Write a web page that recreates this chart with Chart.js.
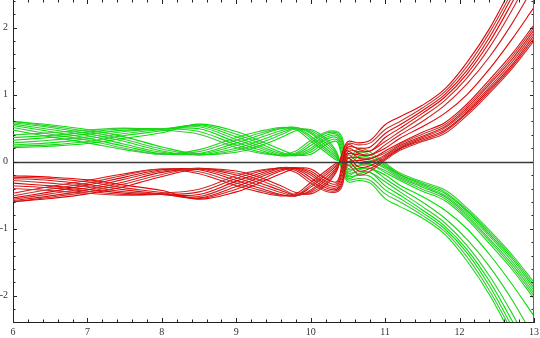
<!DOCTYPE html>
<html>
<head>
<meta charset="utf-8">
<script src="https://cdn.jsdelivr.net/npm/chart.js@4"></script>
<style>
  html, body { margin: 0; padding: 0; background: #fff; }
  canvas { display: block; }
</style>
</head>
<body>
<canvas id="myChart" width="540" height="338"></canvas>
<script>
// sample positions along x
const xs = [6, 6.5, 7, 7.5, 8, 8.5, 9, 9.3, 9.6, 9.8, 10, 10.2, 10.35, 10.42, 10.5, 10.65, 10.8, 11, 11.2, 11.5, 11.8, 12.1, 12.4, 12.7, 13];

// red family, first bundle (top at x=6)
const ra0 = [-0.21, -0.23, -0.27, -0.35, -0.43, -0.56, -0.45, -0.32, -0.18, -0.10, -0.11, -0.25, -0.30, -0.05, 0.25, 0.18, 0.16, 0.36, 0.50, 0.72, 0.96, 1.31, 1.78, 2.36, 2.98];
const ra1 = [-0.23, -0.25, -0.30, -0.39, -0.46, -0.55, -0.41, -0.28, -0.14, -0.09, -0.14, -0.29, -0.33, -0.12, 0.20, 0.12, 0.10, 0.25, 0.40, 0.60, 0.84, 1.16, 1.56, 2.05, 2.62];
const ra2 = [-0.25, -0.28, -0.34, -0.42, -0.48, -0.54, -0.37, -0.24, -0.12, -0.09, -0.17, -0.33, -0.36, -0.18, 0.15, 0.05, 0.04, 0.16, 0.28, 0.44, 0.58, 0.86, 1.22, 1.60, 2.04];
const ra3 = [-0.28, -0.32, -0.37, -0.45, -0.49, -0.52, -0.33, -0.21, -0.10, -0.10, -0.20, -0.36, -0.39, -0.24, 0.10, -0.02, -0.02, 0.08, 0.22, 0.36, 0.50, 0.77, 1.11, 1.48, 1.92];
const ra4 = [-0.32, -0.36, -0.41, -0.47, -0.49, -0.49, -0.29, -0.18, -0.09, -0.11, -0.24, -0.39, -0.41, -0.29, 0.05, -0.08, -0.06, 0.06, 0.20, 0.34, 0.47, 0.74, 1.08, 1.44, 1.88];
const ra5 = [-0.36, -0.39, -0.44, -0.49, -0.49, -0.45, -0.25, -0.15, -0.09, -0.13, -0.28, -0.42, -0.43, -0.33, 0.00, -0.14, -0.10, 0.04, 0.19, 0.32, 0.45, 0.72, 1.05, 1.41, 1.84];
const ra6 = [-0.40, -0.43, -0.47, -0.50, -0.47, -0.41, -0.21, -0.13, -0.10, -0.16, -0.32, -0.44, -0.45, -0.37, -0.05, -0.20, -0.14, 0.02, 0.17, 0.30, 0.42, 0.69, 1.02, 1.38, 1.80];
// red family, second bundle (bottom at x=6)
const rb0 = [-0.60, -0.55, -0.48, -0.37, -0.22, -0.11, -0.14, -0.23, -0.36, -0.46, -0.48, -0.35, -0.14, 0.12, 0.30, 0.28, 0.32, 0.55, 0.67, 0.84, 1.08, 1.48, 1.98, 2.60, 3.25];
const rb1 = [-0.60, -0.53, -0.45, -0.33, -0.19, -0.10, -0.17, -0.27, -0.40, -0.49, -0.46, -0.32, -0.12, 0.10, 0.27, 0.25, 0.28, 0.48, 0.60, 0.80, 1.04, 1.42, 1.92, 2.52, 3.15];
const rb2 = [-0.58, -0.51, -0.42, -0.30, -0.16, -0.10, -0.20, -0.31, -0.43, -0.50, -0.44, -0.28, -0.10, 0.08, 0.22, 0.20, 0.22, 0.42, 0.55, 0.76, 1.00, 1.36, 1.85, 2.45, 3.08];
const rb3 = [-0.56, -0.48, -0.39, -0.26, -0.14, -0.11, -0.24, -0.35, -0.46, -0.51, -0.42, -0.24, -0.08, 0.06, 0.17, 0.15, 0.16, 0.30, 0.45, 0.67, 0.91, 1.25, 1.70, 2.25, 2.88];
const rb4 = [-0.54, -0.45, -0.35, -0.23, -0.12, -0.12, -0.28, -0.39, -0.49, -0.51, -0.38, -0.20, -0.06, 0.03, 0.12, 0.10, 0.10, 0.20, 0.35, 0.52, 0.72, 1.00, 1.38, 1.82, 2.30];
const rb5 = [-0.51, -0.41, -0.32, -0.20, -0.11, -0.15, -0.32, -0.42, -0.50, -0.50, -0.35, -0.17, -0.04, 0.01, 0.06, 0.06, 0.05, 0.13, 0.26, 0.41, 0.55, 0.83, 1.18, 1.56, 2.00];
const rb6 = [-0.47, -0.37, -0.28, -0.18, -0.11, -0.18, -0.36, -0.45, -0.51, -0.48, -0.31, -0.14, -0.02, -0.01, 0.00, 0.02, 0.00, 0.10, 0.24, 0.38, 0.52, 0.80, 1.15, 1.52, 1.96];

// green family, first bundle (bottom at x=6)
const ga0 = [0.21, 0.23, 0.27, 0.35, 0.43, 0.56, 0.45, 0.32, 0.18, 0.10, 0.11, 0.25, 0.30, 0.05, -0.25, -0.18, -0.16, -0.36, -0.50, -0.72, -0.96, -1.31, -1.78, -2.36, -2.98];
const ga1 = [0.23, 0.25, 0.30, 0.39, 0.46, 0.55, 0.41, 0.28, 0.14, 0.09, 0.14, 0.29, 0.33, 0.12, -0.20, -0.12, -0.10, -0.25, -0.40, -0.60, -0.84, -1.16, -1.56, -2.05, -2.62];
const ga2 = [0.25, 0.28, 0.34, 0.42, 0.48, 0.54, 0.37, 0.24, 0.12, 0.09, 0.17, 0.33, 0.36, 0.18, -0.15, -0.05, -0.04, -0.16, -0.28, -0.44, -0.58, -0.86, -1.22, -1.60, -2.04];
const ga3 = [0.28, 0.32, 0.37, 0.45, 0.49, 0.52, 0.33, 0.21, 0.10, 0.10, 0.20, 0.36, 0.39, 0.24, -0.10, 0.02, 0.02, -0.08, -0.22, -0.36, -0.50, -0.77, -1.11, -1.48, -1.92];
const ga4 = [0.32, 0.36, 0.41, 0.47, 0.49, 0.49, 0.29, 0.18, 0.09, 0.11, 0.24, 0.39, 0.41, 0.29, -0.05, 0.08, 0.06, -0.06, -0.20, -0.34, -0.47, -0.74, -1.08, -1.44, -1.88];
const ga5 = [0.36, 0.39, 0.44, 0.49, 0.49, 0.45, 0.25, 0.15, 0.09, 0.13, 0.28, 0.42, 0.43, 0.33, 0.00, 0.14, 0.10, -0.04, -0.19, -0.32, -0.45, -0.72, -1.05, -1.41, -1.84];
const ga6 = [0.40, 0.43, 0.47, 0.50, 0.47, 0.41, 0.21, 0.13, 0.10, 0.16, 0.32, 0.44, 0.45, 0.37, 0.05, 0.20, 0.14, -0.02, -0.17, -0.30, -0.42, -0.69, -1.02, -1.38, -1.80];
// green family, second bundle (top at x=6)
const gb0 = [0.60, 0.55, 0.48, 0.37, 0.22, 0.11, 0.14, 0.23, 0.36, 0.46, 0.48, 0.35, 0.14, -0.12, -0.30, -0.28, -0.32, -0.55, -0.67, -0.84, -1.08, -1.48, -1.98, -2.60, -3.25];
const gb1 = [0.60, 0.53, 0.45, 0.33, 0.19, 0.10, 0.17, 0.27, 0.40, 0.49, 0.46, 0.32, 0.12, -0.10, -0.27, -0.25, -0.28, -0.48, -0.60, -0.80, -1.04, -1.42, -1.92, -2.52, -3.15];
const gb2 = [0.58, 0.51, 0.42, 0.30, 0.16, 0.10, 0.20, 0.31, 0.43, 0.50, 0.44, 0.28, 0.10, -0.08, -0.22, -0.20, -0.22, -0.42, -0.55, -0.76, -1.00, -1.36, -1.85, -2.45, -3.08];
const gb3 = [0.56, 0.48, 0.39, 0.26, 0.14, 0.11, 0.24, 0.35, 0.46, 0.51, 0.42, 0.24, 0.08, -0.06, -0.17, -0.15, -0.16, -0.30, -0.45, -0.67, -0.91, -1.25, -1.70, -2.25, -2.88];
const gb4 = [0.54, 0.45, 0.35, 0.23, 0.12, 0.12, 0.28, 0.39, 0.49, 0.51, 0.38, 0.20, 0.06, -0.03, -0.12, -0.10, -0.10, -0.20, -0.35, -0.52, -0.72, -1.00, -1.38, -1.82, -2.30];
const gb5 = [0.51, 0.41, 0.32, 0.20, 0.11, 0.15, 0.32, 0.42, 0.50, 0.50, 0.35, 0.17, 0.04, -0.01, -0.06, -0.06, -0.05, -0.13, -0.26, -0.41, -0.55, -0.83, -1.18, -1.56, -2.00];
const gb6 = [0.47, 0.37, 0.28, 0.18, 0.11, 0.18, 0.36, 0.45, 0.51, 0.48, 0.31, 0.14, 0.02, 0.01, 0.00, -0.02, 0.00, -0.10, -0.24, -0.38, -0.52, -0.80, -1.15, -1.52, -1.96];

const redSeries = [ra0, ra1, ra2, ra3, ra4, ra5, ra6, rb0, rb1, rb2, rb3, rb4, rb5, rb6];
const greenSeries = [ga0, ga1, ga2, ga3, ga4, ga5, ga6, gb0, gb1, gb2, gb3, gb4, gb5, gb6];

const redColors = ['#e80000', '#d01c1c', '#e40808', '#c43030', '#e00000', '#d41818', '#c83030',
                   '#e60404', '#c23838', '#dc0c0c', '#cc2828', '#e20202', '#b84040', '#de1010'];
const greenColors = ['#00e000', '#20d020', '#08e408', '#40c440', '#00dc00', '#18d818', '#38c838',
                     '#04e404', '#48bc48', '#0ce00c', '#2ccc2c', '#02e202', '#58b858', '#10dc10'];

const X_MIN = 6, X_MAX = 13;
const Y_MIN = -2.39, Y_MAX = 2.41;

function toPoints(ys) {
    return xs.map((x, i) => ({x: x, y: ys[i]}));
}

function makeDataset(ys, color) {
    return {
        data: toPoints(ys),
        borderColor: color,
        borderWidth: 1.1,
        pointRadius: 0,
        fill: false,
        tension: 0.35,
    };
}

const datasets = [];
redSeries.forEach((ys, i) => datasets.push(makeDataset(ys, redColors[i])));
greenSeries.forEach((ys, i) => datasets.push(makeDataset(ys, greenColors[i])));

// zero line and inward frame ticks, placed with the chart's own scales
const frameTicks = {
    id: 'frameTicks',
    afterDatasetsDraw(chart) {
        const {ctx, chartArea: a, scales: {x, y}} = chart;
        ctx.save();

        const y0 = Math.round(y.getPixelForValue(0)) + 0.5;
        ctx.strokeStyle = '#3c3c3c';
        ctx.lineWidth = 1.3;
        ctx.beginPath();
        ctx.moveTo(a.left, y0);
        ctx.lineTo(a.right, y0);
        ctx.stroke();

        ctx.strokeStyle = '#222';
        ctx.lineWidth = 1;
        ctx.beginPath();
        for (let k = 0; k <= (X_MAX - X_MIN) * 5; k++) {
            const v = X_MIN + k / 5;
            const len = k % 5 === 0 ? 4 : 2.5;
            const px = Math.round(x.getPixelForValue(v)) + 0.5;
            ctx.moveTo(px, a.bottom);
            ctx.lineTo(px, a.bottom - len);
            ctx.moveTo(px, a.top);
            ctx.lineTo(px, a.top + len);
        }
        for (let k = -11; k <= 12; k++) {
            const v = k / 5;
            const len = k % 5 === 0 ? 4 : 2.5;
            const py = Math.round(y.getPixelForValue(v)) + 0.5;
            ctx.moveTo(a.left, py);
            ctx.lineTo(a.left + len, py);
            ctx.moveTo(a.right, py);
            ctx.lineTo(a.right - len, py);
        }
        ctx.stroke();

        ctx.strokeStyle = '#666';
        ctx.beginPath();
        ctx.moveTo(Math.round(a.right) - 0.5, a.top);
        ctx.lineTo(Math.round(a.right) - 0.5, a.bottom);
        ctx.stroke();
        ctx.restore();
    }
};

const tickFont = {family: 'Liberation Serif', size: 10};

const config = {
    type: 'line',
    data: {datasets: datasets},
    options: {
        responsive: false,
        animation: false,
        layout: {padding: {left: 0, right: 6, top: 0, bottom: 0}},
        plugins: {
            legend: {display: false},
            tooltip: {enabled: false},
        },
        scales: {
            x: {
                type: 'linear',
                min: X_MIN,
                max: X_MAX,
                grid: {display: false, drawTicks: false},
                border: {display: true, color: '#222', width: 1},
                ticks: {stepSize: 1, font: tickFont, color: '#333', padding: 4, maxRotation: 0},
                afterFit: (scale) => {
                    scale.height = 16;
                    scale.paddingLeft = 0;
                    scale.paddingRight = 0;
                },
            },
            y: {
                type: 'linear',
                min: Y_MIN,
                max: Y_MAX,
                grid: {display: false, drawTicks: false},
                border: {display: true, color: '#222', width: 1},
                ticks: {stepSize: 1, includeBounds: false, font: tickFont, color: '#333', padding: 5},
                afterFit: (scale) => {
                    scale.width = 13;
                    scale.paddingTop = 0;
                    scale.paddingBottom = 0;
                },
            },
        },
    },
    plugins: [frameTicks],
};

const myChart = new Chart(document.getElementById('myChart').getContext('2d'), config);
</script>
</body>
</html>
